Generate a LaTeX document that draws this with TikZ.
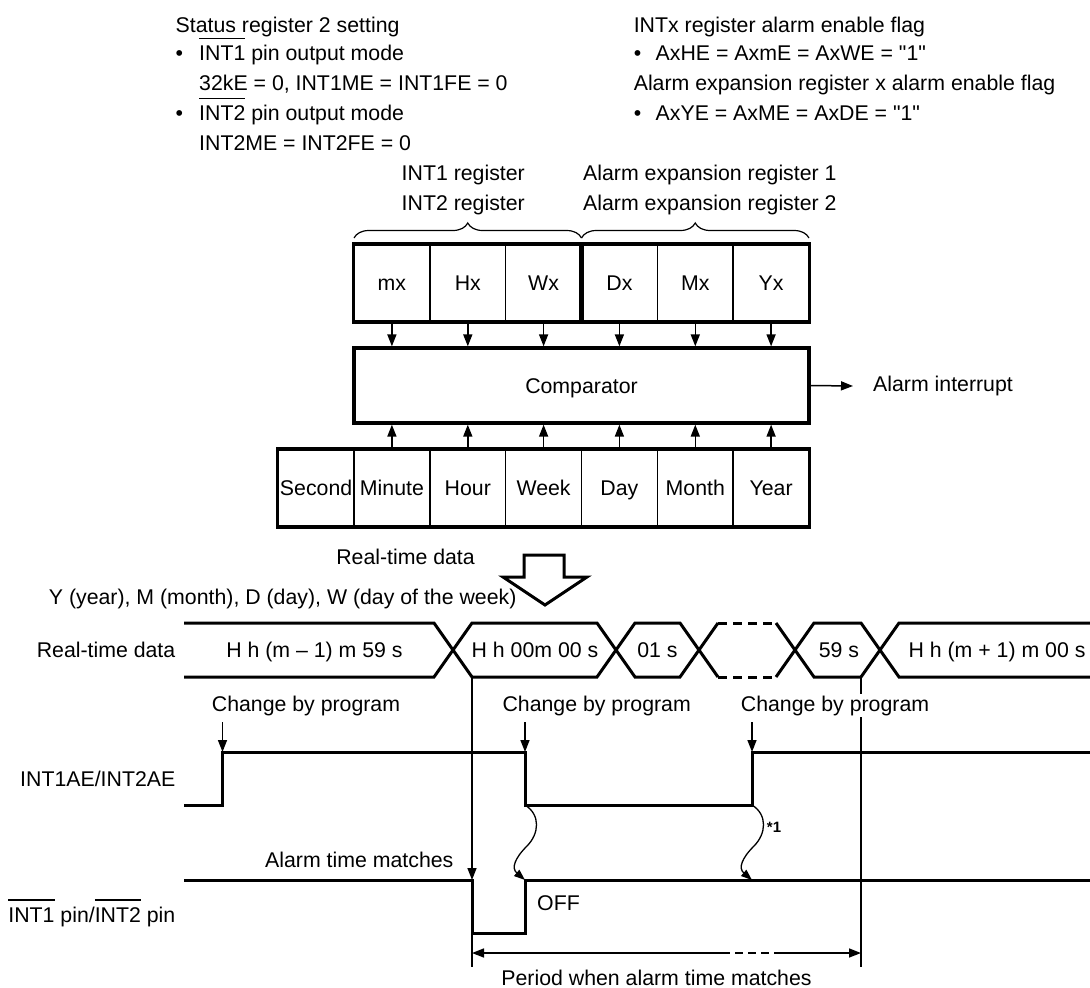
\documentclass[tikz,border=0pt]{standalone}
\usepackage{fontspec}
\newfontfamily\mainf{Liberation Sans}
\usetikzlibrary{arrows.meta,decorations.pathreplacing,calc}
\newcommand\ovl[1]{\leavevmode\setbox0\hbox{#1}\rlap{\rule[\dimexpr\ht0+7pt\relax]{\wd0}{1.4pt}}\box0\relax}
\begin{document}
\begin{tikzpicture}[x=1pt,y=-1pt,
  txt/.style={inner sep=0pt,font=\mainf\fontsize{21.3pt}{25pt}\selectfont},
  small/.style={inner sep=0pt,font=\mainf\bfseries\fontsize{15pt}{18pt}\selectfont},
  thickln/.style={line width=3.3pt,line join=miter},
  sig/.style={line width=3pt,line join=miter},
  thinln/.style={line width=1.5pt},
  arr/.style={line width=1.5pt,-{Triangle[length=12pt,width=9pt]}},
  warr/.style={line width=1.3pt,-{Triangle[length=11pt,width=8pt]}},
  cell/.style={draw,line width=1.5pt,minimum width=75.83pt,minimum height=76.5pt,inner sep=0pt,
     text height=15.3pt,text depth=0pt,font=\mainf\fontsize{21.3pt}{25pt}\selectfont},
  lbl/.style={txt,fill=white,inner sep=2pt}]
\useasboundingbox (0,0) rectangle (1090,988);

% ---------- top texts ----------
\node[txt,anchor=base west] (s1) at (175.5,32.5) {Status register 2 setting};
\node[txt,anchor=base west] (b1) at (175.5,60.8) {•};
\node[txt,anchor=base west] (s2) at (199,60.8) {\ovl{INT1} pin output mode};
\node[txt,anchor=base west] (s3) at (199,90.8) {32kE = 0, INT1ME = INT1FE = 0};
\node[txt,anchor=base west] (b2) at (175.5,120.8) {•};
\node[txt,anchor=base west] (s4) at (199,120.8) {\ovl{INT2} pin output mode};
\node[txt,anchor=base west] (s5) at (199,150.8) {INT2ME = INT2FE = 0};

\node[txt,anchor=base west] (r1) at (633.6,32.5) {INTx register alarm enable flag};
\node[txt,anchor=base west] (rb1) at (633.6,60.8) {•};
\node[txt,anchor=base west] (r2) at (655.5,60.8) {AxHE = AxmE = AxWE = "1"};
\node[txt,anchor=base west] (r3) at (633.6,90.8) {Alarm expansion register x alarm enable flag};
\node[txt,anchor=base west] (rb2) at (633.6,120.8) {•};
\node[txt,anchor=base west] (r4) at (655.5,120.8) {AxYE = AxME = AxDE = "1"};

\node[txt,anchor=base west] (g1) at (401.5,180.8) {INT1 register};
\node[txt,anchor=base west] (g2) at (401.5,210.8) {INT2 register};
\node[txt,anchor=base west] (g3) at (583,180.8) {Alarm expansion register 1};
\node[txt,anchor=base west] (g4) at (583,210.8) {Alarm expansion register 2};

\draw[line width=1.2pt,decorate,decoration={brace,amplitude=15pt}] (354,238) -- (581.5,238);
\draw[line width=1.2pt,decorate,decoration={brace,amplitude=15pt}] (581.5,238) -- (809,238);

% ---------- registers ----------
\node[cell] (mx) at (391.9,283) {mx};
\node[cell] (hx) at (467.8,283) {Hx};
\node[cell] (wx) at (543.6,283) {Wx};
\node[cell] (dx) at (619.4,283) {Dx};
\node[cell] (mmx) at (695.3,283) {Mx};
\node[cell] (yx) at (771.1,283) {Yx};
\draw[thickln] (mx.north west) rectangle (wx.south east);
\draw[thickln] (dx.north west) rectangle (yx.south east);

\node[draw,line width=3.3pt,minimum width=455pt,minimum height=75pt,inner sep=0pt,
  text height=15.3pt,text depth=0pt,font=\mainf\fontsize{21.3pt}{25pt}\selectfont] (cmp) at (581.5,385.5) {Comparator};

\node[cell] (sec) at (316.1,488) {Second};
\node[cell] (min) at (391.9,488) {Minute};
\node[cell] (hr) at (467.8,488) {Hour};
\node[cell] (wk) at (543.6,488) {Week};
\node[cell] (dy) at (619.4,488) {Day};
\node[cell] (mo) at (695.3,488) {Month};
\node[cell] (yr) at (771.1,488) {Year};
\draw[thickln] (sec.north west) rectangle (yr.south east);

\foreach \c in {mx,hx,wx,dx,mmx,yx}{
  \draw[arr] (\c.south) -- (\c.south |- cmp.north);
}
\foreach \c in {min,hr,wk,dy,mo,yr}{
  \draw[arr] (\c.north) -- (\c.north |- cmp.south);
}
\coordinate (aiend) at (853,386);
\draw[arr] (cmp.east) -- (aiend);
\node[txt,anchor=west] (ai) at (873,386) {Alarm interrupt};

% ---------- hollow arrow ----------
\node[txt,anchor=base east] (rtd) at (475,564.5) {Real-time data};
\draw[line width=3pt,fill=white,line join=miter] (524,555)--(564,555)--(564,577)--(587,577)--(545,605)--(503,577)--(524,577)--cycle;
\node[txt,anchor=base west] (ymd) at (48.7,604) {Y (year), M (month), D (day), W (day of the week)};

% ---------- timing: bus ----------
\def\T{623}\def\B{677}\def\M{650}
\node[txt,anchor=base east] (rtl) at (175.5,657.5) {Real-time data};
\draw[sig] (184,\T)--(434,\T)--(453,\M)--(434,\B)--(184,\B);
\draw[sig] (453,\M)--(472,\T)--(597,\T)--(616,\M)--(597,\B)--(472,\B)--cycle;
\draw[sig] (616,\M)--(635,\T)--(680,\T)--(699,\M)--(680,\B)--(635,\B)--cycle;
\draw[sig] (718,\T)--(699,\M)--(718,\B);
\draw[sig,dash pattern=on 9pt off 6pt] (718,\T)--(776,\T);
\draw[sig,dash pattern=on 9pt off 6pt] (718,\B)--(776,\B);
\draw[sig] (776,\T)--(795,\M)--(776,\B);
\draw[sig] (795,\M)--(814,\T)--(861,\T)--(880,\M)--(861,\B)--(814,\B)--cycle;
\draw[sig] (1090,\T)--(899,\T)--(880,\M)--(899,\B)--(1090,\B);
\node[txt,anchor=base] (d1) at (314.5,657.5) {H h (m – 1) m 59 s};
\node[txt,anchor=base] (d2) at (535,657.5) {H h 00m 00 s};
\node[txt,anchor=base] (d3) at (657.5,657.5) {01 s};
\node[txt,anchor=base] (d5) at (839,657.5) {59 s};
\node[txt,anchor=base] (d6) at (997,657.5) {H h (m + 1) m 00 s};

% ---------- vertical markers ----------
\coordinate (v1top) at (472,\B);
\coordinate (v1mid) at (472,880);
\coordinate (v1bot) at (472,967);
\coordinate (v2top) at (861,\B);
\coordinate (v2bot) at (861,967);
\draw[thinln] (v2top) -- (v2bot);
\draw[arr] (v1top) -- (v1mid);
\draw[thinln] (v1mid) -- (v1bot);

% ---------- change by program ----------
\node[lbl,anchor=base] (c1) at (306,711) {Change by program};
\node[lbl,anchor=base] (c2) at (596.7,711) {Change by program};
\node[lbl,anchor=base] (c3) at (835,711) {Change by program};
\coordinate (a1s) at (222.5,722); \coordinate (a1e) at (222.5,752);
\coordinate (a2s) at (525,722);   \coordinate (a2e) at (525,752);
\coordinate (a3s) at (752,722);   \coordinate (a3e) at (752,752);
\draw[arr] (a1s) -- (a1e);
\draw[arr] (a2s) -- (a2e);
\draw[arr] (a3s) -- (a3e);

% ---------- INT1AE/INT2AE ----------
\node[txt,anchor=base east] (ael) at (175.5,786) {INT1AE/INT2AE};
\draw[sig] (184,805)--(222.5,805)--(222.5,752)--(525,752)--(525,805)--(752,805)--(752,752)--(1090,752);

% ---------- INT pin ----------
\node[txt,anchor=base east] (atm) at (453.6,867.5) {Alarm time matches};
\node[txt,anchor=base east] (intl) at (175.5,922.5) {\ovl{INT1} pin/\ovl{INT2} pin};
\draw[sig] (184,880)--(472,880)--(472,933)--(525,933)--(525,880)--(1090,880);
\node[txt,anchor=base west] (off) at (537,910.5) {OFF};

% ---------- wavy arrows ----------
\coordinate (w1s) at (525,805); \coordinate (w1e) at (525,880);
\coordinate (w2s) at (752,805); \coordinate (w2e) at (752,880);
\draw[warr] (w1s) .. controls (541,815) and (539,834) .. (527,846) .. controls (515,858) and (511,868) .. (w1e);
\draw[warr] (w2s) .. controls (768,815) and (766,834) .. (754,846) .. controls (742,858) and (738,868) .. (w2e);
\node[small,anchor=center] (n1) at (774,827) {*1};

% ---------- period arrow ----------
\coordinate (p1) at (472,953); \coordinate (p2) at (722,953);
\coordinate (p3) at (776,953); \coordinate (p4) at (861,953);
\draw[line width=1.5pt,{Triangle[length=12pt,width=9pt]}-] (p1) -- (p2);
\draw[line width=1.5pt,dash pattern=on 8pt off 5pt] (p2) -- (p3);
\draw[arr] (p3) -- (p4);
\node[txt,anchor=base] (per) at (656.5,985.5) {Period when alarm time matches};
\end{tikzpicture}
\end{document}
